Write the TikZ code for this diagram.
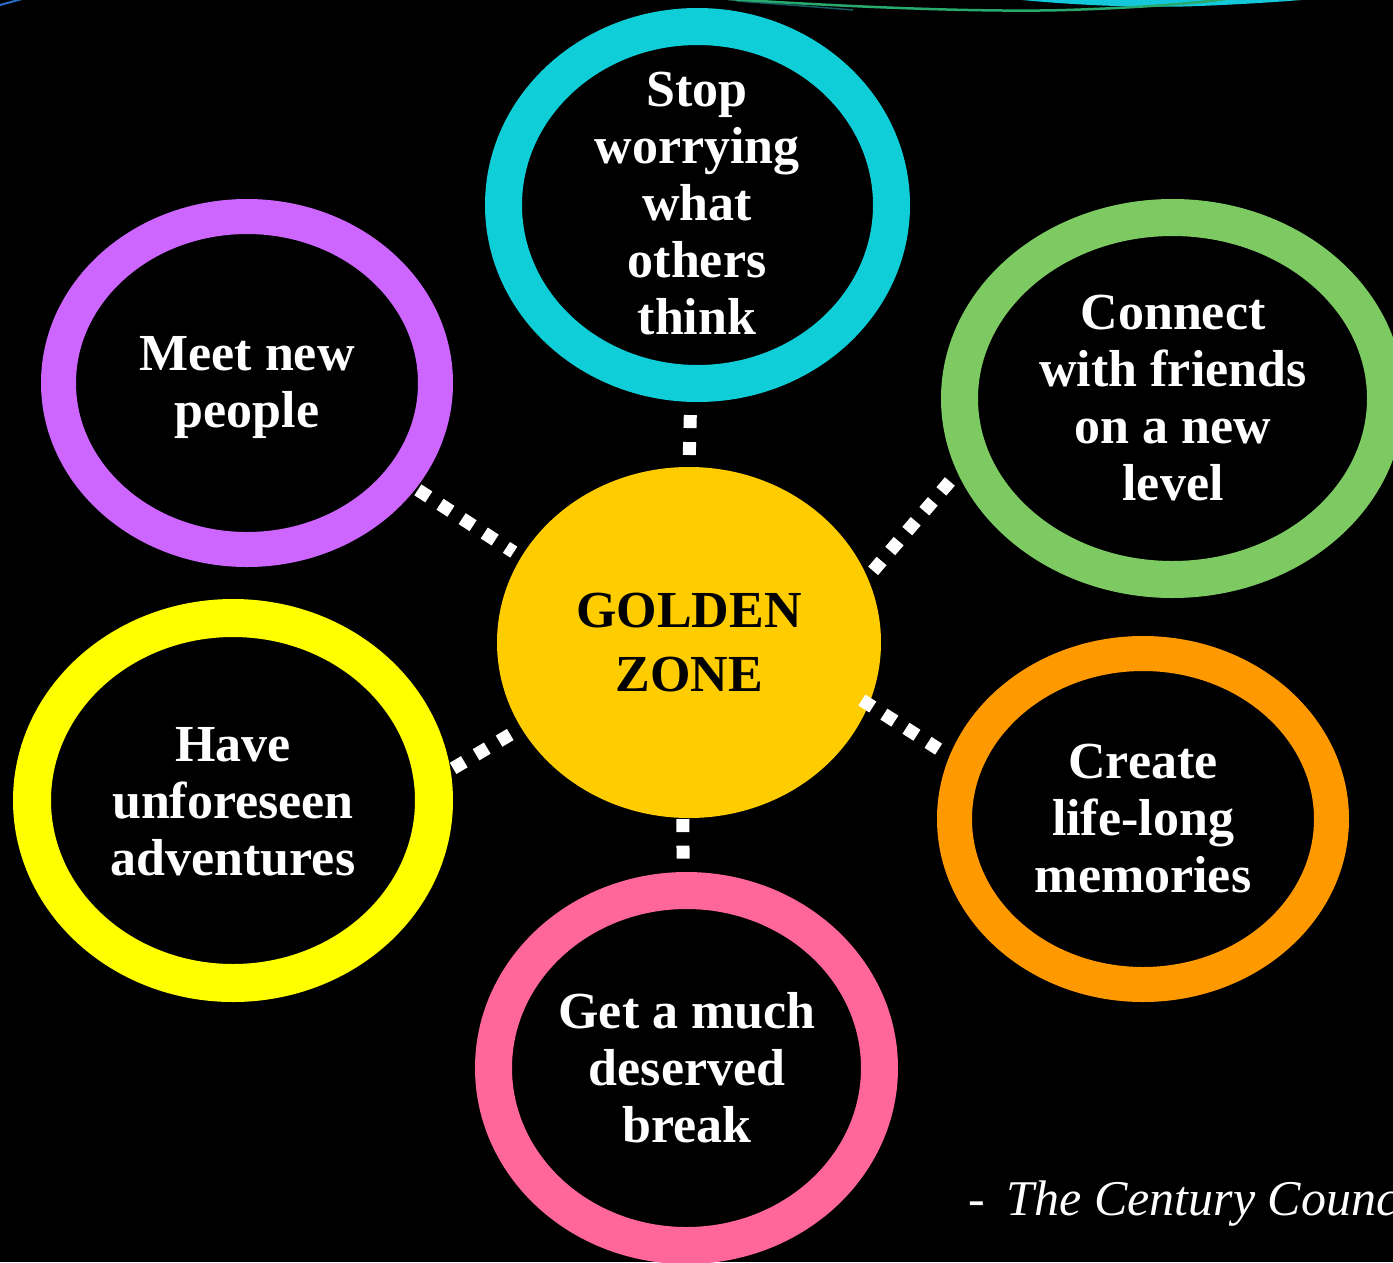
\documentclass[tikz,border=0pt]{standalone}
\usepackage{fontspec}
\setmainfont{Liberation Serif}
\usetikzlibrary{shapes.geometric}

\definecolor{ringcyan}{RGB}{16,206,216}
\definecolor{ringpurple}{RGB}{204,102,255}
\definecolor{ringgreen}{RGB}{126,202,98}
\definecolor{ringyellow}{RGB}{255,255,0}
\definecolor{ringorange}{RGB}{255,153,0}
\definecolor{ringpink}{RGB}{255,102,153}
\definecolor{goldfill}{RGB}{255,204,0}
\definecolor{swooshgreen}{RGB}{40,170,110}
\definecolor{swooshcyan}{RGB}{20,200,220}
\definecolor{swooshteal}{RGB}{20,90,100}
\definecolor{swooshblue}{RGB}{40,110,200}

\tikzset{
  ring/.style={ellipse, draw, line width=#1, outer sep=0.5*#1, inner sep=0pt},
  hub/.style={ellipse, fill=goldfill, draw=none, inner sep=0pt, outer sep=0pt},
  ringtext/.style={text=white, font=\fontsize{52}{57}\selectfont\bfseries,
    align=center, inner sep=0pt},
  hubtext/.style={text=black, font=\fontsize{52}{63.5}\selectfont\bfseries,
    align=center, inner sep=0pt},
  link/.style={draw=white, line width=13pt, line cap=butt},
}

\begin{document}
\begin{tikzpicture}[x=1pt, y=-1pt]
  % page and background
  \useasboundingbox (0,0) rectangle (1393,1262);
  \fill[black] (0,0) rectangle (1393,1262);
  \clip (0,0) rectangle (1393,1262);

  % thin swooshes along the top edge
  \fill[swooshcyan] (1012,-1) .. controls (1080,6) and (1150,8) .. (1199,6)
    .. controls (1250,4) and (1290,1) .. (1314,-1) -- cycle;
  \draw[swooshteal, line width=1.5pt] (737,1) .. controls (790,5) and (830,8) .. (853,10);
  \draw[swooshgreen, line width=2.5pt] (728,-1) .. controls (880,9) and (1000,12) .. (1066,10)
    .. controls (1130,8) and (1190,4) .. (1226,-1);
  \draw[swooshblue, line width=2pt] (0,5) -- (22,-1);

  % outer rings
  \node[ring=37pt, draw=ringcyan,   minimum width=388pt, minimum height=357pt] (cyan)   at (697.5,205) {};
  \node[ring=35pt, draw=ringpurple, minimum width=377pt, minimum height=333pt] (purple) at (247,383) {};
  \node[ring=37pt, draw=ringgreen,  minimum width=426pt, minimum height=362pt] (green)  at (1172.5,398.5) {};
  \node[ring=38pt, draw=ringyellow, minimum width=402pt, minimum height=365pt] (yellow) at (233,800.5) {};
  \node[ring=35pt, draw=ringorange, minimum width=377pt, minimum height=331pt] (orange) at (1143,819) {};
  \node[ring=37pt, draw=ringpink,   minimum width=386pt, minimum height=355pt] (pink)   at (686.5,1068) {};

  % central hub
  \node[hub, minimum width=384pt, minimum height=351pt] (gold) at (689,642.5) {};

  % dotted links between hub and rings
  \draw[link, dash pattern=on 13pt off 14pt, shorten <=13.2pt, shorten >=12pt] (cyan.-92.3) -- (gold.90);
  \draw[link, dash pattern=on 13pt off 13.5pt, shorten <=1.3pt, shorten >=13.5pt] (gold.-92.6) -- (pink.91.6);
  \draw[link, dash pattern=on 13pt off 13.4pt, shorten <=2.5pt, shorten >=9pt] (purple.-32.45) -- (gold.153.84);
  \draw[link, dash pattern=on 13pt off 13.2pt, shorten <=11.8pt, shorten >=8.8pt] (green.-161.69) -- (gold.20.92);
  \draw[link, dash pattern=on 13pt off 13.7pt, shorten <=3.1pt, shorten >=12.1pt] (yellow.8.36) -- (gold.207.64);
  \draw[link, dash pattern=on 13pt off 13.2pt, shorten <=-8.1pt, shorten >=13pt] (gold.-19.83) -- (orange.162.64);

  % texts
  \node[ringtext] (cyan-t)   at (697,204)    {Stop\\worrying\\what\\others\\think};
  \node[ringtext] (purple-t) at (247,388)    {Meet new\\people};
  \node[ringtext] (green-t)  at (1173,398.5) {Connect\\with friends\\on a new\\level};
  \node[ringtext] (yellow-t) at (233,802)    {Have\\unforeseen\\adventures};
  \node[ringtext] (orange-t) at (1143,818.5) {Create\\life-long\\memories};
  \node[ringtext] (pink-t)   at (687,1068)   {Get a much\\deserved\\break};
  \node[hubtext]  (gold-t)   at (689,642.5)  {GOLDEN\\ZONE};

  % attribution, running past the right edge
  \node[anchor=base west, text=white, font=\fontsize{50}{60}\selectfont, inner sep=0pt]
    (credit) at (968,1215) {-\hspace{22pt}\itshape The Century Council};
\end{tikzpicture}
\end{document}
